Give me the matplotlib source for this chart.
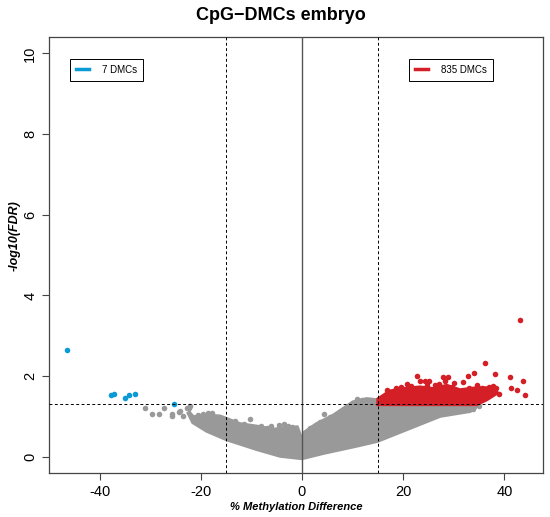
import matplotlib
matplotlib.use("Agg")
import matplotlib.pyplot as plt
from matplotlib.lines import Line2D

plt.rcParams['font.family'] = ['Liberation Sans', 'DejaVu Sans']
plt.rcParams['axes.unicode_minus'] = False

# dense grey cloud outline (non-significant CpGs)
cloud_x = [-22.5, -21.5, -19.5, -16.2, -12.3, -8.5, -5.7, -3.0, -1.0, -0.3,
           0.0, 0.6, 2.9, 6.2, 10.1, 12.8, 15.0, 20.0, 25.0, 30.0, 33.2, 34.5,
           33.2, 27.3, 20.7, 14.9, 10.8, 4.2, 0.0, -4.3, -9.0, -14.9, -18.8, -21.5]
cloud_y = [1.12, 0.98, 1.02, 1.00, 0.81, 0.74, 0.67, 0.72, 0.73, 0.50,
           0.36, 0.61, 0.81, 1.02, 1.35, 1.43, 1.40, 1.30, 1.30, 1.30, 1.22, 1.26,
           1.14, 1.02, 0.69, 0.40, 0.28, 0.10, -0.03, 0.03, 0.20, 0.44, 0.65, 0.86]

# scattered grey points outside / on the edge of the dense cloud
grey_x = [-31.1, -29.7, -28.2, -27.2, -25.6, -25.6, -24.3, -24.1, -23.5, -22.8,
          -22.4, -22.1, -19.5, -17.7, -10.3, -6.1, -4.5, -3.6, -2.0, 4.4, 10.8,
          -20.6, -18.5, -16.8, -15.5, -14.0, -13.2, -11.5, -8.0, -7.0, -2.8,
          -21.0, -19.8, 1.5, 3.5, 5.5, 8.0, 9.5, 11.8, 33.8, 35.0]
grey_y = [1.20, 1.07, 1.07, 1.22, 1.06, 1.02, 1.11, 1.14, 1.02, 1.20,
          1.22, 1.25, 1.06, 1.10, 0.95, 0.77, 0.80, 0.82, 0.74, 1.06, 1.43,
          1.04, 1.08, 0.98, 0.92, 0.86, 0.88, 0.82, 0.76, 0.72, 0.76,
          0.88, 0.95, 0.72, 0.86, 0.98, 1.14, 1.26, 1.40, 1.18, 1.27]

# hypomethylated DMCs (blue)
hypo_x = [-46.4, -37.8, -37.2, -34.9, -34.1, -32.9, -25.2]
hypo_y = [2.64, 1.53, 1.56, 1.46, 1.53, 1.56, 1.31]

# dense red mass outline (hypermethylated DMCs)
red_mass_x = [15.1, 15.1, 17.4, 20.0, 23.3, 26.0, 28.6, 31.2, 34.5, 37.8, 38.5,
              36.5, 34.5, 25.0]
red_mass_y = [1.31, 1.43, 1.62, 1.68, 1.72, 1.68, 1.76, 1.65, 1.70, 1.70, 1.59,
              1.43, 1.31, 1.31]

# scattered red points
hyper_x = [43.1, 36.2, 34.0, 38.1, 22.8, 27.8, 28.9, 32.9, 23.3, 24.3, 25.2,
           31.9, 28.3, 41.2, 43.7, 41.3, 42.5, 44.1, 39.0, 26.2, 37.0, 37.7,
           38.3, 34.5, 18.5, 20.8, 30.0, 16.8, 19.5, 21.5, 24.8, 27.0, 29.6,
           33.0, 35.5, 36.8]
hyper_y = [3.39, 2.33, 2.08, 2.05, 2.00, 1.99, 1.99, 2.00, 1.89, 1.89, 1.89,
           1.86, 1.88, 1.98, 1.89, 1.71, 1.66, 1.54, 1.56, 1.79, 1.74, 1.75,
           1.71, 1.79, 1.72, 1.80, 1.82, 1.66, 1.74, 1.76, 1.78, 1.80, 1.74,
           1.72, 1.70, 1.62]

n_hypo = 7
n_hyper = 835
fdr_cut = 1.301
diff_cut = 15

grey = '#999999'
blue = '#0a9bd6'
red = '#d41f26'

fig = plt.figure(figsize=(5.5, 5.17), dpi=100)
ax = fig.add_axes([0.089, 0.085, 0.898, 0.843])

ax.fill(cloud_x, cloud_y, color=grey, lw=3, ec=grey, zorder=2)
ax.scatter(grey_x, grey_y, s=16, color=grey, lw=0, zorder=2)
ax.fill(red_mass_x, red_mass_y, color=red, lw=3, ec=red, zorder=3)
ax.scatter(hyper_x, hyper_y, s=16, color=red, lw=0, zorder=3)
ax.scatter(hypo_x, hypo_y, s=16, color=blue, lw=0, zorder=3)

ax.axvline(0, color='#555555', lw=1, zorder=4)
for v in (-diff_cut, diff_cut):
    ax.axvline(v, color='black', lw=0.7, ls=(0, (3, 2.5)), zorder=4)
ax.axhline(fdr_cut, color='black', lw=0.7, ls=(0, (3, 2.5)), zorder=4)

ax.set_xlim(-50.0, 47.6)
ax.set_ylim(-0.4, 10.4)
ax.set_xticks([-40, -20, 0, 20, 40])
ax.set_yticks([0, 2, 4, 6, 8, 10])
ax.tick_params(labelsize=10.5, length=5, color='#444444')
for lab in ax.get_yticklabels():
    lab.set_rotation(90)
    lab.set_va('center')
for s in ax.spines.values():
    s.set_color('#444444')
    s.set_linewidth(0.9)

fig.text(281 / 550, 1 - 15 / 517, 'CpG\u2212DMCs embryo', ha='center', va='center',
         fontsize=13, fontweight='bold')
fig.text(296 / 550, 1 - 507 / 517, '% Methylation Difference', ha='center',
         va='center', fontsize=8, fontweight='bold', style='italic')
fig.text(15 / 550, 1 - 236 / 517, '-log10(FDR)', ha='center', va='center',
         rotation=90, fontsize=9, fontweight='bold', style='italic')

leg1 = ax.legend([Line2D([], [], color=blue, lw=2.5)], ['%d DMCs' % n_hypo],
                 loc='upper left', bbox_to_anchor=(0.042, 0.950), borderaxespad=0,
                 fancybox=False, edgecolor='black', framealpha=1, fontsize=7,
                 handlelength=1.35, handletextpad=1.35, borderpad=0.6)
leg1.get_frame().set_linewidth(0.7)
ax.add_artist(leg1)
leg2 = ax.legend([Line2D([], [], color=red, lw=2.5)], ['%d DMCs' % n_hyper],
                 loc='upper right', bbox_to_anchor=(0.899, 0.950), borderaxespad=0,
                 fancybox=False, edgecolor='black', framealpha=1, fontsize=7,
                 handlelength=1.35, handletextpad=1.35, borderpad=0.6)
leg2.get_frame().set_linewidth(0.7)

fig.savefig('out.png', dpi=100)
